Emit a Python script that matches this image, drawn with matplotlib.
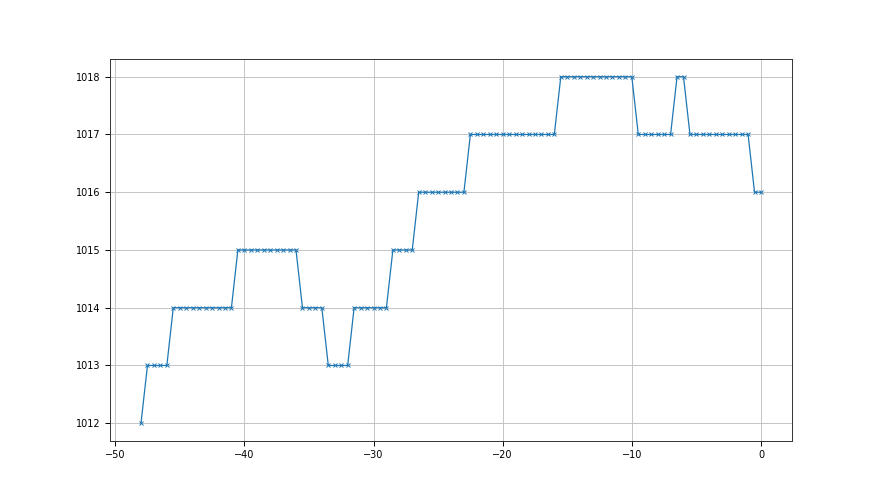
import numpy as np
import matplotlib
matplotlib.use("Agg")
import matplotlib.pyplot as plt

# Pressure readings (hPa) every 0.5 units from -48 to 0
runs_values = [1012, 1013, 1014, 1015, 1014, 1013, 1014, 1015, 1016, 1017, 1018, 1017, 1018, 1017, 1016]
runs_counts = [1, 4, 10, 10, 4, 4, 6, 4, 8, 14, 12, 6, 2, 10, 2]
pressure = []
for v, c in zip(runs_values, runs_counts):
    pressure += [v] * c
x = [-48 + 0.5 * i for i in range(len(pressure))]

fig = plt.figure(figsize=(8.8, 4.95), dpi=100)
ax = fig.add_subplot(111)
ax.plot(x, pressure, marker='x', color='#1f77b4', linewidth=0.9, markersize=3.5, markeredgewidth=0.7)
ax.grid(True, color='#c4c4c4', linewidth=0.7)
for s in ax.spines.values():
    s.set_linewidth(0.7)
    s.set_color('#333333')
ax.tick_params(labelsize=7, width=0.7)
fig.savefig("out.png", dpi=100)
